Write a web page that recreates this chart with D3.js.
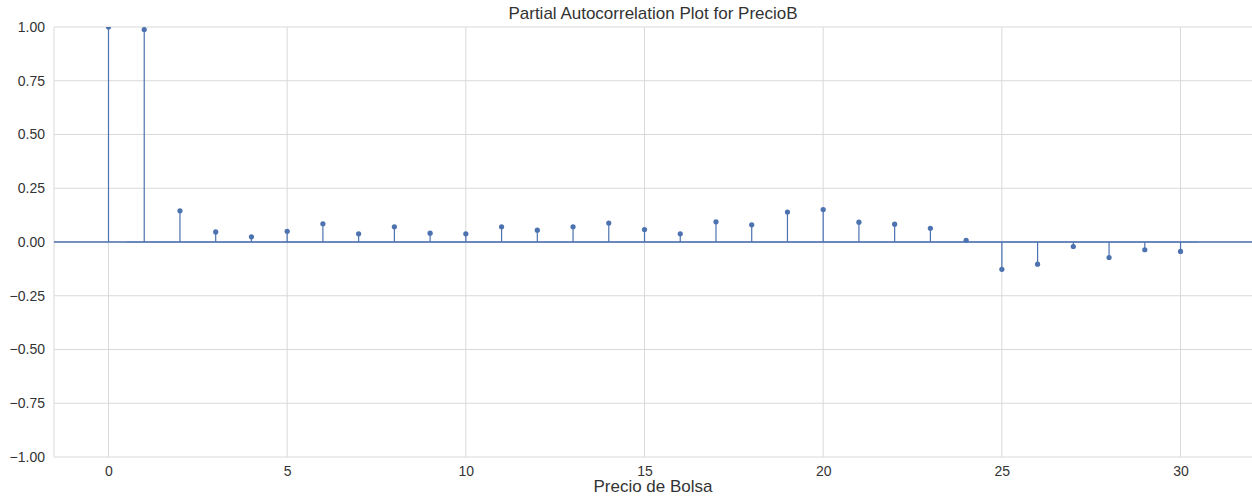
<!DOCTYPE html>
<html>
<head>
<meta charset="utf-8">
<script src="https://cdn.jsdelivr.net/npm/d3@7"></script>
<style>
  html, body { margin: 0; padding: 0; background: #fff; }
  svg { display: block; font-family: "Liberation Sans", Arial, sans-serif; }
</style>
</head>
<body>
<svg id="chart" width="1252" height="500"></svg>
<script>
// Partial autocorrelation by lag
const lags = d3.range(0, 31);
const pacf = [1.000, 0.988, 0.145, 0.047, 0.024, 0.050, 0.085, 0.038, 0.071, 0.041,
              0.038, 0.071, 0.055, 0.071, 0.088, 0.058, 0.038, 0.094, 0.080, 0.139,
              0.151, 0.092, 0.083, 0.064, 0.008, -0.127, -0.103, -0.021, -0.072, -0.036,
              -0.044];
// Confidence band (lag range and half-width)
const bandLags = [0.5, 30.5];
const bandHalf = 0.004;
const xTicks = [0, 5, 10, 15, 20, 25, 30];
const yTicks = [-1.00, -0.75, -0.50, -0.25, 0.00, 0.25, 0.50, 0.75, 1.00];

const svg = d3.select("#chart");
const margin = { left: 54, top: 27, right: 0, bottom: 43 };
const W = 1252, H = 500;

const x = d3.scaleLinear().domain([-1.525, 32.0]).range([margin.left, W - margin.right]);
const y = d3.scaleLinear().domain([-1, 1]).range([H - margin.bottom, margin.top]);

const blue = "#4c72b0";
const grid = "#d9d9d9";
const textColor = "#333";

svg.append("defs").append("clipPath").attr("id", "plotClip")
  .append("rect")
  .attr("x", margin.left).attr("y", margin.top)
  .attr("width", W - margin.left - margin.right)
  .attr("height", H - margin.top - margin.bottom);

// Grid
const g = svg.append("g");
g.selectAll(".vgrid").data(xTicks).join("line")
  .attr("x1", d => x(d)).attr("x2", d => x(d))
  .attr("y1", y(1)).attr("y2", y(-1))
  .attr("stroke", grid).attr("stroke-width", 1);
g.selectAll(".hgrid").data(yTicks).join("line")
  .attr("x1", margin.left).attr("x2", W)
  .attr("y1", d => y(d)).attr("y2", d => y(d))
  .attr("stroke", grid).attr("stroke-width", 1);

// Left spine
g.append("line")
  .attr("x1", margin.left).attr("x2", margin.left)
  .attr("y1", y(1)).attr("y2", y(-1))
  .attr("stroke", grid).attr("stroke-width", 1);

// Axes (labels only)
const xAxis = svg.append("g")
  .attr("transform", `translate(0,${y(-1)})`)
  .call(d3.axisBottom(x).tickValues(xTicks).tickSize(0).tickPadding(9).tickFormat(d3.format("d")));
xAxis.select(".domain").remove();
xAxis.selectAll("text").attr("font-size", 14).attr("fill", textColor)
  .attr("font-family", "Liberation Sans, Arial, sans-serif");

const yAxis = svg.append("g")
  .attr("transform", `translate(${margin.left},0)`)
  .call(d3.axisLeft(y).tickValues(yTicks).tickSize(0).tickPadding(9)
    .tickFormat(d => d3.format(".2f")(d).replace("-", "\u2212")));
yAxis.select(".domain").remove();
yAxis.selectAll("text").attr("font-size", 14).attr("fill", textColor)
  .attr("font-family", "Liberation Sans, Arial, sans-serif");

const plot = svg.append("g").attr("clip-path", "url(#plotClip)");

// Confidence band
plot.append("rect")
  .attr("x", x(bandLags[0])).attr("width", x(bandLags[1]) - x(bandLags[0]))
  .attr("y", y(bandHalf)).attr("height", y(-bandHalf) - y(bandHalf))
  .attr("fill", blue).attr("opacity", 0.3);

// Zero line
plot.append("line")
  .attr("x1", margin.left).attr("x2", W)
  .attr("y1", y(0)).attr("y2", y(0))
  .attr("stroke", blue).attr("stroke-width", 1.5);

const data = lags.map((l, i) => ({ lag: l, v: pacf[i] }));

// Stems
plot.selectAll(".stem").data(data).join("line")
  .attr("x1", d => x(d.lag)).attr("x2", d => x(d.lag))
  .attr("y1", y(0)).attr("y2", d => y(d.v))
  .attr("stroke", blue).attr("stroke-width", 1.2);

// Markers
plot.selectAll(".dot").data(data).join("circle")
  .attr("cx", d => x(d.lag)).attr("cy", d => y(d.v))
  .attr("r", 2.6).attr("fill", blue);

// Title and axis label
svg.append("text")
  .attr("x", 653).attr("y", 19)
  .attr("text-anchor", "middle").attr("font-size", 17).attr("fill", textColor)
  .text("Partial Autocorrelation Plot for PrecioB");

svg.append("text")
  .attr("x", 653).attr("y", 492)
  .attr("text-anchor", "middle").attr("font-size", 17).attr("fill", textColor)
  .text("Precio de Bolsa");
</script>
</body>
</html>
